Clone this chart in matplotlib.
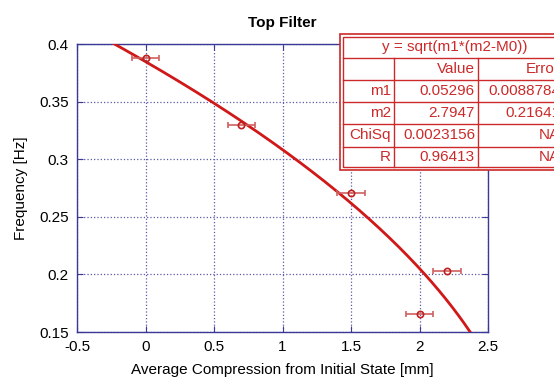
import numpy as np
import matplotlib
matplotlib.use("Agg")
import matplotlib.pyplot as plt
from matplotlib.patches import Rectangle

plt.rcParams['font.family'] = ['Liberation Sans', 'DejaVu Sans']

# data
x_vals = [0.0, 0.7, 1.5, 2.0, 2.2]
y_vals = [0.388, 0.330, 0.271, 0.166, 0.203]
x_err = [0.1, 0.1, 0.1, 0.1, 0.1]

# fit parameters  y = sqrt(m1*(m2 - x))
m1 = 0.05296
m2 = 2.7947
fit_x_range = [-0.3, 2.5]

x_ticks = [-0.5, 0, 0.5, 1, 1.5, 2, 2.5]
x_tick_labels = ['-0.5', '0', '0.5', '1', '1.5', '2', '2.5']
y_ticks = [0.15, 0.2, 0.25, 0.3, 0.35, 0.4]
y_tick_labels = ['0.15', '0.2', '0.25', '0.3', '0.35', '0.4']

table_title = 'y = sqrt(m1*(m2-M0))'
table_header = ['', 'Value', 'Error']
table_rows = ['m1', 'm2', 'ChiSq', 'R']
table_values = ['0.05296', '2.7947', '0.0023156', '0.96413']
table_errors = ['0.0088784', '0.21641', 'NA', 'NA']

W, H = 554, 383
fig = plt.figure(figsize=(W / 100, H / 100), dpi=100)
ax = fig.add_axes([77 / W, 1 - 332 / H, (488 - 77) / W, (332 - 44) / H])

axis_col = '#3a3a96'
red = '#d01818'

xf = np.linspace(fit_x_range[0], fit_x_range[1], 400)
arg = m1 * (m2 - xf)
yf = np.sqrt(np.clip(arg, 0, None))
ax.plot(xf, yf, color=red, lw=2.0, zorder=3)

ax.errorbar(x_vals, y_vals, xerr=x_err, fmt='o', ms=4.5, mfc='none',
            mec='#c02020', mew=1.2, ecolor='#d06060', elinewidth=1.2,
            capsize=2.5, capthick=1.2, zorder=4)

ax.set_xlim(-0.5, 2.5)
ax.set_ylim(0.15, 0.4)
ax.set_xticks(x_ticks)
ax.set_xticklabels(x_tick_labels)
ax.set_yticks(y_ticks)
ax.set_yticklabels(y_tick_labels)
ax.tick_params(direction='in', length=4, color=axis_col, labelsize=11,
               top=True, right=True, pad=6)
for s in ax.spines.values():
    s.set_color(axis_col)
    s.set_linewidth(1.0)
ax.grid(True, linestyle=':', color='#5a5aa8', lw=0.9)

ax.set_xlabel('Average Compression from Initial State [mm]', fontsize=11, labelpad=6)
ax.set_ylabel('Frequency [Hz]', fontsize=11, labelpad=8)
ax.set_title('Top Filter', fontsize=11, fontweight='bold', pad=12)

# table overlay (pixel layout)
def fx(px):
    return px / W

def fy(py):
    return 1 - py / H

tcol = '#cc2a2a'
tl, tr, tt, tb = 340, 566, 34, 170
fig.add_artist(Rectangle((fx(tl), fy(tb)), fx(tr - tl), (tb - tt) / H,
                         transform=fig.transFigure, facecolor='white',
                         edgecolor=tcol, lw=1.2, zorder=10))
fig.add_artist(Rectangle((fx(tl + 3), fy(tb - 3)), fx(tr - tl - 6), (tb - tt - 6) / H,
                         transform=fig.transFigure, facecolor='none',
                         edgecolor=tcol, lw=1.0, zorder=11))
row_edges = [37, 58, 80, 102, 124, 147, 167]
col_edges = [343, 394, 478, 563]
for ry in row_edges[1:-1]:
    fig.add_artist(plt.Line2D([fx(343), fx(563)], [fy(ry), fy(ry)],
                              transform=fig.transFigure, color=tcol, lw=1.0, zorder=11))
for cx in col_edges[1:-1]:
    fig.add_artist(plt.Line2D([fx(cx), fx(cx)], [fy(58), fy(167)],
                              transform=fig.transFigure, color=tcol, lw=1.0, zorder=11))

fig.text(fx(455), fy((row_edges[0] + row_edges[1]) / 2), table_title,
         ha='center', va='center', color=tcol, fontsize=11, zorder=12)
rows = [table_header] + [[r, v, e] for r, v, e in zip(table_rows, table_values, table_errors)]
for i, row in enumerate(rows):
    yc = fy((row_edges[i + 1] + row_edges[i + 2]) / 2)
    for j, txt in enumerate(row):
        fig.text(fx(col_edges[j + 1] - 3), yc, txt, ha='right', va='center',
                 color=tcol, fontsize=11, zorder=12)

fig.savefig('out.png', dpi=100)
